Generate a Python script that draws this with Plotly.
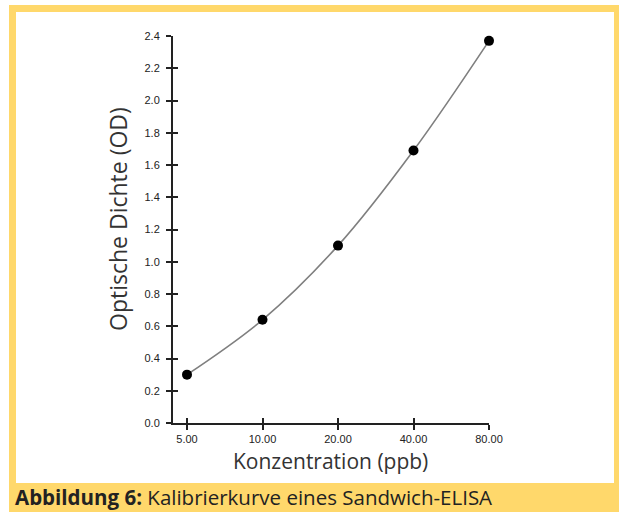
import math
import plotly.graph_objects as go

conc = [5, 10, 20, 40, 80]
od = [0.30, 0.64, 1.10, 1.69, 2.37]
x_tick_vals = [5, 10, 20, 40, 80]
x_tick_text = ["5.00", "10.00", "20.00", "40.00", "80.00"]
y_tick_vals = [0.0, 0.2, 0.4, 0.6, 0.8, 1.0, 1.2, 1.4, 1.6, 1.8, 2.0, 2.2, 2.4]
y_tick_text = ["0.0", "0.2", "0.4", "0.6", "0.8", "1.0", "1.2", "1.4", "1.6", "1.8", "2.0", "2.2", "2.4"]

W, H = 619, 512
L, R, T, B = 173, 489, 36, 423

def px(xp):
    return (xp - L) / (R - L)

def py(yp):
    return (B - yp) / (B - T)

xr = [math.log10(5) - 14 / 75.5 * math.log10(2), math.log10(80)]

fig = go.Figure()
# invisible trace that activates the overlay axes (inner half of the crossing ticks)
fig.add_trace(go.Scatter(x=conc, y=od, xaxis="x2", yaxis="y2", mode="markers",
                         marker=dict(opacity=0), hoverinfo="skip", showlegend=False))
fig.add_trace(go.Scatter(x=conc, y=od, mode="lines", line=dict(color="#7f7f7f", width=1.6, shape="spline"),
                         hoverinfo="skip", showlegend=False, cliponaxis=False))
fig.add_trace(go.Scatter(x=conc, y=od, mode="markers", marker=dict(color="black", size=10),
                         showlegend=False, cliponaxis=False))

YEL = "#FFD86B"
fig.add_shape(type="rect", xref="paper", yref="paper", x0=px(9), x1=px(619), y0=py(5), y1=py(512),
              fillcolor=YEL, line_width=0, layer="below")
fig.add_shape(type="rect", xref="paper", yref="paper", x0=px(16), x1=px(614), y0=py(12), y1=py(483),
              fillcolor="white", line_width=0, layer="below")

tickfont = dict(family="Liberation Sans, Arial", size=11, color="#222")
axis_common = dict(showgrid=False, zeroline=False, showline=True, linecolor="#222", linewidth=2,
                   ticklen=5, tickwidth=1.6, tickcolor="#222")
axis_inner = dict(showgrid=False, zeroline=False, showline=False,
                  ticklen=5, tickwidth=1.6, tickcolor="#222")

fig.update_layout(
    width=W, height=H,
    margin=dict(l=L, r=W - R, t=T, b=H - B),
    paper_bgcolor="white", plot_bgcolor="rgba(0,0,0,0)",
    xaxis=dict(type="log", range=xr, tickvals=x_tick_vals, ticktext=x_tick_text, ticks="outside",
               tickfont=tickfont, **axis_common),
    yaxis=dict(range=[0, 2.4], tickvals=y_tick_vals, ticktext=y_tick_text, ticks="outside",
               tickfont=tickfont, ticklabelstandoff=4, **axis_common),
    xaxis2=dict(type="log", range=xr, tickmode="array", tickvals=x_tick_vals, ticks="inside",
                showticklabels=False, overlaying="x", anchor="y", side="bottom", **axis_inner),
    yaxis2=dict(range=[0, 2.4], tickmode="array", tickvals=y_tick_vals, ticks="inside",
                showticklabels=False, overlaying="y", anchor="x", side="left", **axis_inner),
)

fig.add_annotation(text="Optische Dichte (OD)", xref="paper", yref="paper", x=px(118), y=py(219),
                   textangle=-90, showarrow=False, font=dict(family="Open Sans", size=23, color="#333"),
                   xanchor="center", yanchor="middle")
fig.add_annotation(text="Konzentration (ppb)", xref="paper", yref="paper", x=px(330), y=py(461),
                   showarrow=False, font=dict(family="Open Sans", size=21, color="#333"),
                   xanchor="center", yanchor="middle")
fig.add_annotation(text="<b>Abbildung 6:</b> Kalibrierkurve eines Sandwich-ELISA", xref="paper", yref="paper",
                   x=px(13), y=py(497), showarrow=False, xanchor="left", yanchor="middle",
                   font=dict(family="Open Sans", size=20.5, color="#222"))

fig.write_html("out.html", config={"displayModeBar": False},
               post_script="document.body.style.margin='0';document.body.style.overflow='hidden';")
